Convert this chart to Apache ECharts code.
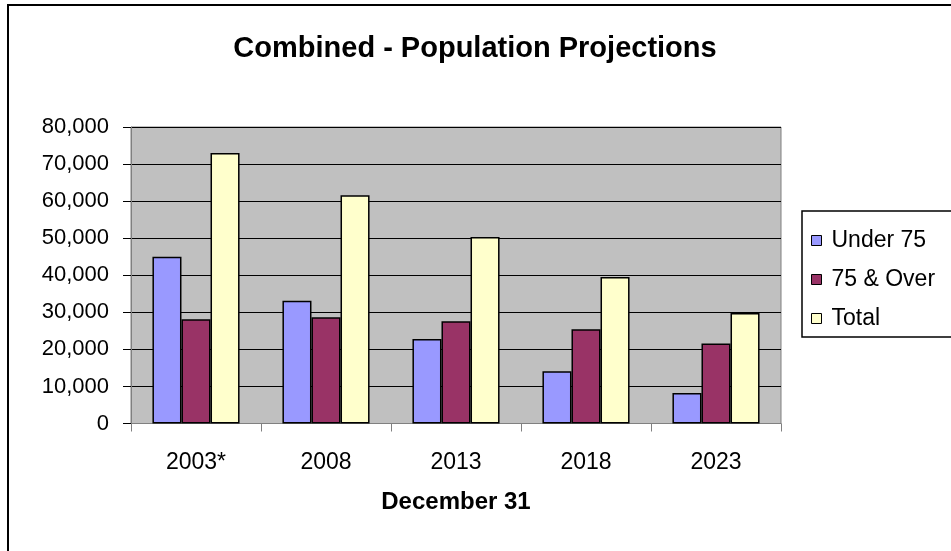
<!DOCTYPE html>
<html>
<head>
<meta charset="utf-8">
<script src="https://cdn.jsdelivr.net/npm/echarts@6/dist/echarts.min.js"></script>
<style>html,body{margin:0;padding:0;background:#fff;}#c{width:951px;height:551px;}</style>
</head>
<body>
<div id="c"></div>
<script>
const titleText = "Combined - Population Projections";
const categories = ["2003*", "2008", "2013", "2018", "2023"];
const under75 = [45000, 33100, 22800, 14100, 8200];
const over75 = [28100, 28700, 27600, 25400, 21600];
const total = [73000, 61600, 50300, 39500, 29800];
const seriesNames = ["Under 75", "75 & Over", "Total"];
const xAxisName = "December 31";
const yMin = 0, yMax = 80000, yStep = 10000;

const FONT = "'Liberation Sans', Arial, sans-serif";
const chart = echarts.init(document.getElementById('c'), null, {renderer: 'canvas'});
const colors = ['#9999FF', '#993366', '#FFFFCC'];
const data = [under75, over75, total];

chart.setOption({
  animation: false,
  backgroundColor: '#ffffff',
  title: {
    text: titleText,
    left: 470, top: 29, textAlign: 'center',
    textStyle: {fontFamily: FONT, fontWeight: 'bold', fontSize: 29, color: '#000'}
  },
  grid: {
    left: 131, right: 170, top: 127, bottom: 127.5,
    show: true, backgroundColor: '#C0C0C0', borderColor: '#808080', borderWidth: 1
  },
  legend: {
    orient: 'vertical', left: 806, top: 224,
    itemWidth: 10, itemHeight: 10, itemGap: 16, icon: 'rect',
    itemStyle: {borderColor: '#000', borderWidth: 1},
    textStyle: {fontFamily: FONT, fontSize: 23, color: '#000', lineHeight: 23, padding: [0,0,0,5]},
    data: seriesNames
  },
  xAxis: {
    type: 'category', data: categories,
    name: xAxisName, nameLocation: 'middle', nameGap: 67,
    nameTextStyle: {fontFamily: FONT, fontWeight: 'bold', fontSize: 24, color: '#000'},
    axisLine: {lineStyle: {color: '#808080', width: 1}},
    axisTick: {show: true, length: 8, lineStyle: {color: '#808080'}},
    axisLabel: {fontFamily: FONT, fontSize: 23, color: '#000', margin: 28}
  },
  yAxis: {
    type: 'value', min: yMin, max: yMax, interval: yStep,
    axisLine: {show: true, lineStyle: {color: '#808080', width: 1}},
    axisTick: {show: true, length: 8, lineStyle: {color: '#000'}},
    axisLabel: {fontFamily: FONT, fontSize: 22, color: '#000', margin: 22,
      formatter: v => v.toLocaleString('en-US')},
    splitLine: {show: true, lineStyle: {color: '#000', width: 1}}
  },
  graphic: [
    {type: 'rect', shape: {x: 8, y: 5, width: 1100, height: 700}, style: {fill: 'none', stroke: '#000', lineWidth: 2}, z: 100},
    {type: 'rect', shape: {x: 802, y: 211, width: 300, height: 126}, style: {fill: 'none', stroke: '#000', lineWidth: 1.5}, z: 100}
  ],
  series: seriesNames.map((n, i) => ({
    name: n, type: 'bar', data: data[i],
    barGap: '0%', barCategoryGap: '33%',
    itemStyle: {color: colors[i], borderColor: '#000', borderWidth: 1.5}
  }))
});
</script>
</body>
</html>
